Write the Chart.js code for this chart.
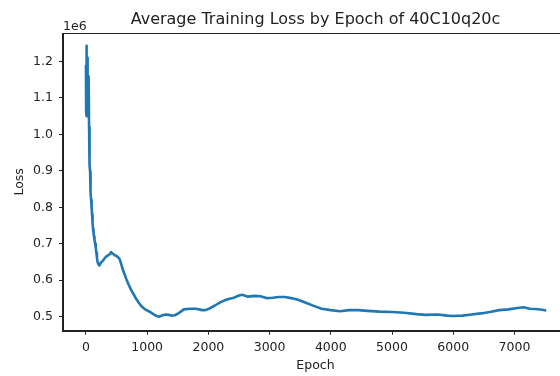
<!DOCTYPE html>
<html>
<head>
<meta charset="utf-8">
<script src="https://cdn.jsdelivr.net/npm/chart.js@4"></script>
<style>
  html, body { margin: 0; padding: 0; background: #fff; overflow: hidden; }
  #wrap { width: 560px; height: 376px; overflow: hidden; }
</style>
</head>
<body>
<div id="wrap"><canvas id="chart" width="576" height="376"></canvas></div>
<script>
// epoch numbers and the averaged loss at each one
const epochs = [
  0, 3, 6, 9, 12, 15, 18, 21, 24, 27, 30, 33, 36, 39, 42, 45, 48, 51, 54, 57,
  60, 64, 68, 72, 78, 85, 92, 100, 108, 116, 124, 132, 140, 150, 160, 170, 180, 190, 200, 210,
  220, 235, 250, 270, 300, 330, 360, 390, 410, 430, 450, 470, 490, 510, 530, 550, 575, 600, 630, 660,
  700, 740, 780, 820, 860, 900, 950, 1000, 1050, 1100, 1150, 1200, 1250, 1300, 1350, 1400, 1450, 1500, 1550, 1600,
  1700, 1800, 1900, 1950, 2000, 2100, 2200, 2300, 2400, 2500, 2550, 2650, 2750, 2850, 2950, 3050, 3150, 3250, 3350, 3450,
  3550, 3700, 3850, 4000, 4150, 4300, 4450, 4600, 4800, 5000, 5200, 5400, 5550, 5750, 5900, 6000, 6150, 6300, 6450, 6600,
  6750, 6900, 7050, 7150, 7250, 7350, 7450, 7520
];
const loss = [
  1.19e6, 1.06e6, 1.22e6, 1.05e6, 1.243e6, 1.08e6, 1.2e6, 1.05e6, 1.17e6, 1.06e6, 1.21e6, 1.07e6, 1.15e6, 1.05e6, 1.13e6, 1.06e6, 1.159e6, 1.02e6, 0.97e6, 0.93e6,
  0.935e6, 0.915e6, 0.898e6, 0.87e6, 0.84e6, 0.82e6, 0.8e6, 0.78e6, 0.757e6, 0.74e6, 0.73e6, 0.72e6, 0.711e6, 0.7e6, 0.69e6, 0.675e6, 0.662e6, 0.65e6, 0.646e6, 0.642e6,
  0.641e6, 0.645e6, 0.65e6, 0.652e6, 0.659e6, 0.665e6, 0.668e6, 0.672e6, 0.677e6, 0.673e6, 0.672e6, 0.668e6, 0.668e6, 0.665e6, 0.662e6, 0.658e6, 0.645e6, 0.63e6, 0.617e6, 0.603e6,
  0.587e6, 0.573e6, 0.561e6, 0.549e6, 0.539e6, 0.53e6, 0.522e6, 0.517e6, 0.513e6, 0.507e6, 0.502e6, 0.5e6, 0.504e6, 0.506e6, 0.505e6, 0.503e6, 0.504e6, 0.508e6, 0.514e6, 0.52e6,
  0.522e6, 0.522e6, 0.518e6, 0.518e6, 0.521e6, 0.53e6, 0.54e6, 0.547e6, 0.551e6, 0.558e6, 0.56e6, 0.555e6, 0.557e6, 0.556e6, 0.551e6, 0.552e6, 0.554e6, 0.554e6, 0.551e6, 0.547e6,
  0.541e6, 0.531e6, 0.522e6, 0.518e6, 0.515e6, 0.518e6, 0.518e6, 0.516e6, 0.514e6, 0.513e6, 0.511e6, 0.507e6, 0.505e6, 0.506e6, 0.503e6, 0.502e6, 0.503e6, 0.506e6, 0.509e6, 0.513e6,
  0.518e6, 0.52e6, 0.524e6, 0.526e6, 0.522e6, 0.521e6, 0.519e6, 0.517e6
];

const xTicks = [0, 1000, 2000, 3000, 4000, 5000, 6000, 7000];
const yTicks = [0.5e6, 0.6e6, 0.7e6, 0.8e6, 0.9e6, 1.0e6, 1.1e6, 1.2e6];

const titleText = "Average Training Loss by Epoch of 40C10q20c";
const font = "'DejaVu Sans', sans-serif";
const ink = "#222";

// box round the plot, title centred over it, "1e6" multiplier above the y axis
const frame = {
  id: "frame",
  afterDraw(chart) {
    const { ctx, chartArea: a } = chart;
    ctx.save();
    ctx.strokeStyle = ink;
    ctx.lineWidth = 1;
    ctx.strokeRect(Math.round(a.left) - 0.5, Math.round(a.top) + 0.5,
      Math.round(a.right - a.left), Math.round(a.bottom - a.top));
    ctx.fillStyle = ink;
    ctx.font = "12.5px " + font;
    ctx.textBaseline = "alphabetic";
    ctx.textAlign = "left";
    ctx.fillText("1e6", a.left, a.top - 3.5);
    ctx.font = "16px " + font;
    ctx.textAlign = "center";
    ctx.textBaseline = "middle";
    ctx.fillText(titleText, (a.left + a.right) / 2, 20);
    ctx.restore();
  },
};

new Chart(document.getElementById("chart"), {
  type: "line",
  data: {
    datasets: [{
      data: epochs.map((e, i) => ({ x: e, y: loss[i] })),
      borderColor: "#1f77b4",
      borderWidth: 2.6,
      borderJoinStyle: "round",
      pointRadius: 0,
      tension: 0,
    }],
  },
  options: {
    responsive: false,
    animation: false,
    layout: { padding: { left: 0, right: 8, top: 33, bottom: 0 } },
    plugins: {
      legend: { display: false },
      tooltip: { enabled: false },
      title: { display: false },
    },
    scales: {
      x: {
        type: "linear",
        min: -375,
        max: 7875,
        afterBuildTicks: (s) => { s.ticks = xTicks.map((v) => ({ value: v })); },
        afterFit: (s) => { s.height = 45.3; },
        grid: { drawOnChartArea: false, drawTicks: true, tickLength: 4, color: ink },
        border: { display: true, color: ink, width: 1 },
        ticks: {
          color: ink, padding: 6, autoSkip: false, maxRotation: 0,
          font: { family: font, size: 12.5 },
          callback: (v) => String(v),
        },
        title: {
          display: true, text: "Epoch", color: ink,
          font: { family: font, size: 12.5 },
          padding: { top: 0, bottom: 3 },
        },
      },
      y: {
        type: "linear",
        min: 0.4616e6,
        max: 1.278e6,
        afterBuildTicks: (s) => { s.ticks = yTicks.map((v) => ({ value: v })); },
        afterFit: (s) => { s.width = 63; },
        grid: { drawOnChartArea: false, drawTicks: true, tickLength: 4, color: ink },
        border: { display: true, color: ink, width: 1 },
        ticks: {
          color: ink, padding: 6,
          font: { family: font, size: 12.5 },
          callback: (v) => (v / 1e6).toFixed(1),
        },
        title: {
          display: true, text: "Loss", color: ink,
          font: { family: font, size: 12.5 },
          padding: { top: 12, bottom: 0 },
        },
      },
    },
  },
  plugins: [frame],
});
</script>
</body>
</html>
